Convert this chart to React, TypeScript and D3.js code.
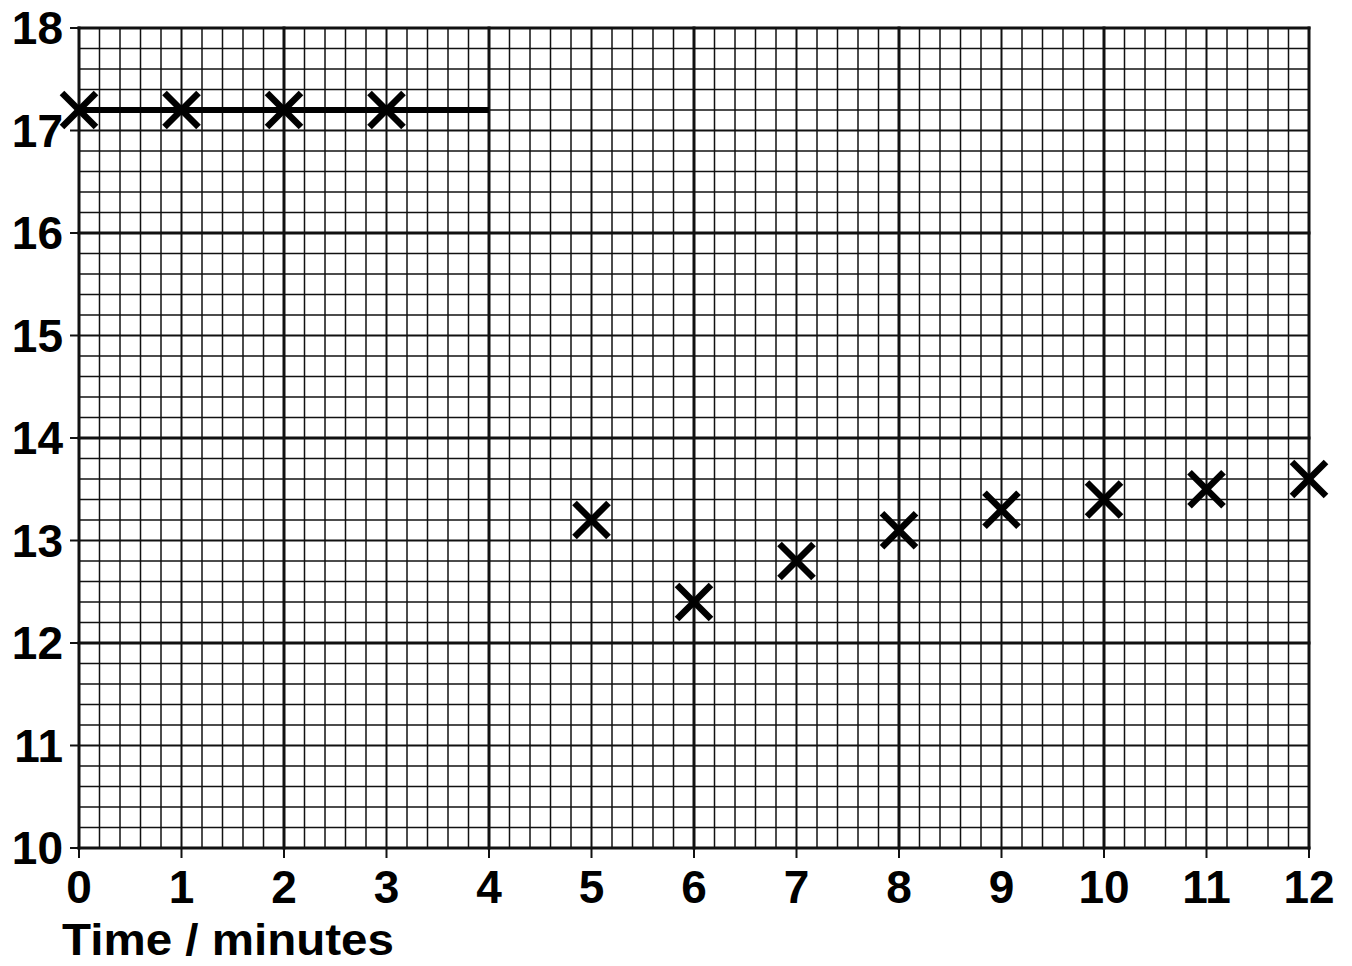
import React from "react";
import * as d3 from "d3";

const xTicks = [0, 1, 2, 3, 4, 5, 6, 7, 8, 9, 10, 11, 12];
const yTicks = [10, 11, 12, 13, 14, 15, 16, 17, 18];
const times = [0, 1, 2, 3, 5, 6, 7, 8, 9, 10, 11, 12];
const temps = [17.2, 17.2, 17.2, 17.2, 13.2, 12.4, 12.8, 13.1, 13.3, 13.4, 13.5, 13.6];
const lineTimes = [0, 4];
const lineTemps = [17.2, 17.2];
const xLabel = "Time / minutes";

const W = 1352;
const H = 966;
const M = { left: 79, right: 1309, top: 28, bottom: 848 };

export default function App() {
  const x = d3.scaleLinear().domain([0, 12]).range([M.left, M.right]);
  const y = d3.scaleLinear().domain([10, 18]).range([M.bottom, M.top]);
  const minorX = d3.range(0, 12.0001, 0.2).map((v) => Math.round(v * 10) / 10);
  const minorY = d3.range(10, 18.0001, 0.2).map((v) => Math.round(v * 10) / 10);
  const weight = (v: number) => {
    const r = Math.round(v * 10);
    if (r % 20 === 0) return 3;
    if (r % 10 === 0) return 2;
    return 1.5;
  };
  const line = d3
    .line<number>()
    .x((_, i) => x(lineTimes[i]))
    .y((d) => y(d));
  const s = 17;
  const font = "'Liberation Sans', Arial, sans-serif";
  return (
    <svg
      width={W}
      height={H}
      style={{ position: "absolute", left: 0, top: 0, background: "#fff" }}
    >
      <rect x={0} y={0} width={W} height={H} fill="#fff" />
      <g stroke="#111">
        {minorX
          .filter((v) => weight(v) < 2.5)
          .map((v) => (
            <line key={"vx" + v} x1={x(v)} x2={x(v)} y1={M.top} y2={M.bottom} strokeWidth={weight(v)} />
          ))}
        {minorY
          .filter((v) => weight(v) < 2.5)
          .map((v) => (
            <line key={"vy" + v} y1={y(v)} y2={y(v)} x1={M.left} x2={M.right} strokeWidth={weight(v)} />
          ))}
        {minorX
          .filter((v) => weight(v) >= 2.5)
          .map((v) => (
            <line key={"mx" + v} x1={x(v)} x2={x(v)} y1={M.top - 1.5} y2={M.bottom + 1.5} strokeWidth={weight(v)} />
          ))}
        {minorY
          .filter((v) => weight(v) >= 2.5)
          .map((v) => (
            <line key={"my" + v} y1={y(v)} y2={y(v)} x1={M.left - 1.5} x2={M.right + 1.5} strokeWidth={weight(v)} />
          ))}
        {yTicks.map((v) => (
          <line key={"ty" + v} x1={M.left - 9} x2={M.left} y1={y(v)} y2={y(v)} strokeWidth={2} />
        ))}
        {xTicks.map((v) => (
          <line key={"tx" + v} x1={x(v)} x2={x(v)} y1={M.bottom} y2={M.bottom + 10} strokeWidth={2} />
        ))}
      </g>
      <path d={line(lineTemps) || ""} fill="none" stroke="#000" strokeWidth={6} />
      <g stroke="#000" strokeWidth={6.5}>
        {times.map((t, i) => (
          <g key={"p" + i} transform={`translate(${x(t)},${y(temps[i])})`}>
            <line x1={-s} y1={-s} x2={s} y2={s} />
            <line x1={-s} y1={s} x2={s} y2={-s} />
          </g>
        ))}
      </g>
      <g fontFamily={font} fontWeight="bold" fontSize={46} fill="#000">
        {yTicks.map((v) => (
          <text key={"ly" + v} x={M.left - 16} y={y(v) + 16} textAnchor="end">
            {v}
          </text>
        ))}
        {xTicks.map((v) => (
          <text key={"lx" + v} x={x(v)} y={903} textAnchor="middle">
            {v}
          </text>
        ))}
        <text x={62} y={955} fontSize={44} textLength={332} lengthAdjust="spacingAndGlyphs">
          {xLabel}
        </text>
      </g>
    </svg>
  );
}
